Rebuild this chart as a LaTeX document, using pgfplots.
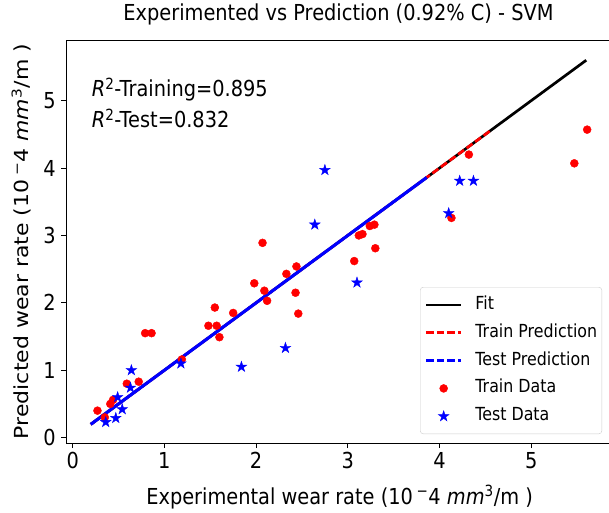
\documentclass[border=0pt]{standalone}
\usepackage{pgfplots}
\pgfplotsset{compat=1.18}
\usepackage{fontspec}
\usepackage{graphicx}
\setmainfont{DejaVu Sans}[FakeStretch=0.88]
\newfontfamily\ylfont{DejaVu Sans}

% filled five-pointed star, like matplotlib's '*'
\pgfdeclareplotmark{fstar}{%
  \pgfsetcornersarced{\pgfpointorigin}%
  \pgfpathmoveto{\pgfpointpolar{90}{\pgfplotmarksize}}%
  \pgfpathlineto{\pgfpointpolar{126}{0.382*\pgfplotmarksize}}%
  \pgfpathlineto{\pgfpointpolar{162}{\pgfplotmarksize}}%
  \pgfpathlineto{\pgfpointpolar{198}{0.382*\pgfplotmarksize}}%
  \pgfpathlineto{\pgfpointpolar{234}{\pgfplotmarksize}}%
  \pgfpathlineto{\pgfpointpolar{270}{0.382*\pgfplotmarksize}}%
  \pgfpathlineto{\pgfpointpolar{306}{\pgfplotmarksize}}%
  \pgfpathlineto{\pgfpointpolar{342}{0.382*\pgfplotmarksize}}%
  \pgfpathlineto{\pgfpointpolar{18}{\pgfplotmarksize}}%
  \pgfpathlineto{\pgfpointpolar{54}{0.382*\pgfplotmarksize}}%
  \pgfpathclose
  \pgfusepathqfillstroke}

\pgfplotsset{
  legline/.style={legend image code/.code={\draw[##1] (0pt,0pt) -- (35pt,0pt);}},
  legmark/.style={legend image code/.code={\draw[##1] plot coordinates {(17.5pt,0pt)};}},
  mpldash/.style={dash pattern=on 7.4pt off 3.2pt},
  traindots/.style={only marks, mark=*, mark size=4pt, red, mark options={fill=red, draw=red}},
  teststars/.style={only marks, mark=fstar, mark size=5.6pt, blue, mark options={fill=blue, draw=blue, line width=0.4pt}},
}

\pgfplotstableread{
x y
0.27 0.40
0.35 0.30
0.41 0.50
0.44 0.56
0.59 0.80
0.72 0.83
0.79 1.55
0.86 1.55
1.19 1.16
1.48 1.66
1.55 1.93
1.57 1.66
1.60 1.49
1.75 1.85
1.98 2.29
2.07 2.89
2.09 2.18
2.12 2.03
2.33 2.43
2.44 2.54
2.43 2.15
2.46 1.84
3.07 2.62
3.12 3.00
3.16 3.02
3.24 3.14
3.29 3.16
3.30 2.81
4.13 3.26
4.32 4.20
5.47 4.07
5.61 4.57
}\traindata

\pgfplotstableread{
x y
0.36 0.23
0.47 0.29
0.49 0.60
0.54 0.42
0.63 0.74
0.64 1.00
1.18 1.10
1.84 1.05
2.32 1.33
2.64 3.16
2.75 3.97
3.10 2.30
4.10 3.33
4.22 3.81
4.37 3.81
}\testdata

\begin{document}
\begin{tikzpicture}
\begin{axis}[
  scale only axis,
  width=545pt, height=403pt,
  xmin=-0.073, xmax=5.87,
  ymin=-0.08, ymax=5.9,
  xtick={0,1,2,3,4,5},
  ytick={0,1,2,3,4,5},
  tick pos=left,
  tick align=outside,
  major tick length=5pt,
  every tick/.style={black, line width=1pt},
  axis line style={black, line width=1pt},
  /pgf/number format/assume math mode=true,
  ticklabel style={font=\fontsize{22}{22}\selectfont},
  xticklabel style={anchor=base, inner sep=0pt, yshift=-20pt},
  yticklabel style={anchor=base east, inner sep=0pt, xshift=-5pt, yshift=-8pt},
  title={Experimented vs Prediction (0.92\% C) - SVM},
  title style={at={(0.5,1)}, anchor=base, yshift=14pt, inner sep=0pt,
    font=\fontsize{22}{22}\selectfont},
  xlabel={Experimental wear rate (10\,\textsuperscript{−}4 \textit{mm}\textsuperscript{3}/m )},
  xlabel style={at={(0.502,0)}, anchor=base, yshift=-61pt, inner sep=0pt,
    font=\fontsize{22}{22}\selectfont},
  ylabel={\ylfont\scalebox{1}[0.88]{Predicted wear rate (10\,\textsuperscript{−}4 \textit{mm}\textsuperscript{3}/m )}},
  ylabel style={at={([xshift=-37.7pt]axis description cs:0,0.5)}, anchor=base, inner sep=0pt,
    font=\fontsize{22}{22}\selectfont},
  legend style={at={(0.9835,0.0223)}, anchor=south east,
    draw=black!20, rounded corners=3pt, fill=white,
    font=\fontsize{18}{18}\selectfont,
    inner xsep=4.7pt, inner ysep=9pt,
    row sep=10.9pt, column sep=13pt,
    nodes={inner sep=0pt, text height=13pt, text depth=4pt}},
  legend cell align=left,
]
\addlegendimage{legline, black, line width=2.4pt}
\addlegendentry{Fit}
\addlegendimage{legline, red, line width=2.4pt, mpldash}
\addlegendentry{Train Prediction}
\addlegendimage{legline, blue, line width=2.4pt, mpldash}
\addlegendentry{Test Prediction}
\addlegendimage{legmark, traindots}
\addlegendentry{Train Data}
\addlegendimage{legmark, teststars}
\addlegendentry{Test Data}

% data points (drawn under the lines, as in matplotlib)
\addplot[traindots, forget plot] table[x=x, y=y] {\traindata};
\addplot[teststars, forget plot] table[x=x, y=y] {\testdata};

% fit and prediction lines
\addplot[black, line width=2.7pt, forget plot] coordinates {(0.197,0.197) (5.6,5.6)};
\addplot[red, line width=2.7pt, mpldash, forget plot] coordinates {(0.197,0.197) (4.55,4.55)};
\addplot[blue, line width=3.1pt, forget plot] coordinates {(0.197,0.197) (3.86,3.86)};

\node[anchor=base west, inner sep=0pt, font=\fontsize{22}{22}\selectfont]
  at (axis cs:0.207,5.06) {\textit{R}\textsuperscript{2}-Training=0.895};
\node[anchor=base west, inner sep=0pt, font=\fontsize{22}{22}\selectfont]
  at (axis cs:0.207,4.60) {\textit{R}\textsuperscript{2}-Test=0.832};
\end{axis}
\pgfresetboundingbox
\path (current axis.south west) ++(-66pt,-69pt) rectangle ++(609pt,512pt);
\end{tikzpicture}
\end{document}
